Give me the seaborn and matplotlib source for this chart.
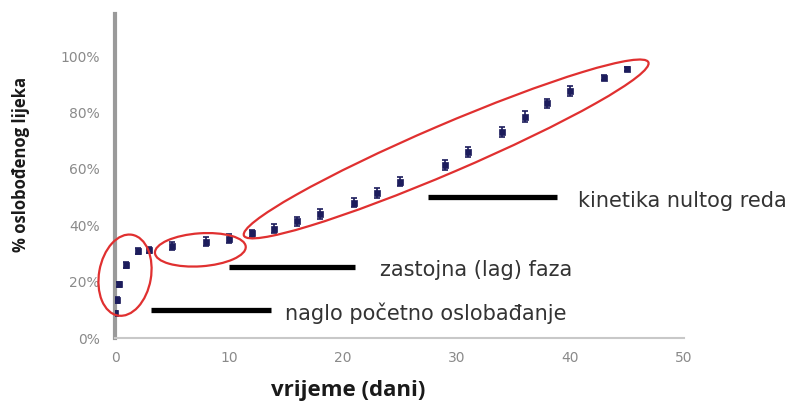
import numpy as np
import matplotlib
matplotlib.use("Agg")
import matplotlib.pyplot as plt
import seaborn as sns
import pandas as pd
from matplotlib.patches import Ellipse
from matplotlib.transforms import IdentityTransform

# data
days = [0, 0.17, 0.33, 1, 2, 3, 5, 8, 10, 12, 14, 16, 18, 21, 23, 25,
        29, 31, 34, 36, 38, 40, 43, 45]
released = [8.8, 13.5, 19.0, 25.9, 30.9, 31.2, 32.7, 34.1, 35.3, 37.1, 38.8,
            41.4, 44.1, 48.0, 51.5, 55.5, 61.4, 66.1, 73.2, 78.6, 83.3, 87.6,
            92.4, 95.5]
err = [0.8, 1.0, 1.0, 1.2, 1.2, 1.2, 1.3, 1.6, 1.6, 1.3, 1.5, 1.5, 1.8, 1.6,
       1.7, 1.6, 1.8, 1.8, 1.7, 1.8, 1.6, 1.7, 0.8, 0.8]
x_ticks = [0, 10, 20, 30, 40, 50]
y_ticks = [0, 20, 40, 60, 80, 100]

# annotation bars: (x start, x end, y) and their labels
bars = [(3.2, 13.7, 9.9), (10.0, 21.1, 25.3), (27.5, 38.8, 50.0)]
labels = ["naglo početno oslobađanje", "zastojna (lag) faza", "kinetika nultog reda"]
label_pos = [(14.9, 8.9), (23.3, 24.1), (40.7, 48.6)]

# red ellipses: centre in data units, size in pixels, angle in degrees
ellipses = [((0.88, 22.3), 52, 82, -10),
            ((7.5, 31.3), 91, 33, 4),
            ((29.1, 67.1), 440, 48, 23.2)]

df = pd.DataFrame({"dani": days, "oslob": released})

sns.set_style("white")
fig = plt.figure(figsize=(8.02, 4.05), dpi=100)
ax = fig.add_axes([115 / 802, 67 / 405, 569 / 802, 324 / 405])

navy = "#1c1c5c"
ax.errorbar(days, released, yerr=err, fmt="none", ecolor=navy, elinewidth=1.2,
            capsize=2.5, capthick=1.2, zorder=3)
sns.scatterplot(data=df, x="dani", y="oslob", marker="s", s=20, color=navy,
                edgecolor=navy, linewidth=0.5, ax=ax, zorder=4)

ax.set_xlim(0, 50)
ax.set_ylim(0, 115)
ax.set_xticks(x_ticks)
ax.set_yticks(y_ticks)
ax.set_yticklabels([f"{v}%" for v in y_ticks])
ax.tick_params(axis="both", colors="#8c8c8c", labelsize=10, width=1)
ax.tick_params(axis="x", direction="inout", pad=7, length=5)
ax.tick_params(axis="y", direction="out", pad=8, length=3)
for lbl in ax.get_xticklabels() + ax.get_yticklabels():
    lbl.set_color("#8a8a8a")

sns.despine(ax=ax)
ax.spines["left"].set_color("#9a9a9a")
ax.spines["left"].set_linewidth(3)
ax.spines["bottom"].set_color("#c8c8c8")
ax.spines["bottom"].set_linewidth(1.5)

ax.set_xlabel("vrijeme (dani)", fontsize=16, fontweight="bold", color="#1a1a1a",
              family=["Open Sans", "DejaVu Sans"])
ax.set_ylabel("% oslobođenog lijeka", fontsize=12, fontweight="bold", color="#1a1a1a",
              family=["Open Sans", "DejaVu Sans"])
ax.xaxis.set_label_coords(0.41, -0.13)
ax.yaxis.set_label_coords(-0.15, 0.537)

for (x0, x1, y), txt, (tx, ty) in zip(bars, labels, label_pos):
    ax.plot([x0, x1], [y, y], color="black", linewidth=3.8, solid_capstyle="butt",
            zorder=2)
    ax.text(tx, ty, txt, fontsize=15, color="#333333", va="center", ha="left",
            family=["DejaVu Sans"])

fig.canvas.draw()
for (cx, cy), w, h, ang in ellipses:
    px, py = ax.transData.transform((cx, cy))
    e = Ellipse((px, py), w, h, angle=ang, fill=False, edgecolor="#e03030",
                linewidth=1.6, transform=IdentityTransform(), zorder=5)
    fig.add_artist(e)

fig.savefig("out.png", dpi=100)
